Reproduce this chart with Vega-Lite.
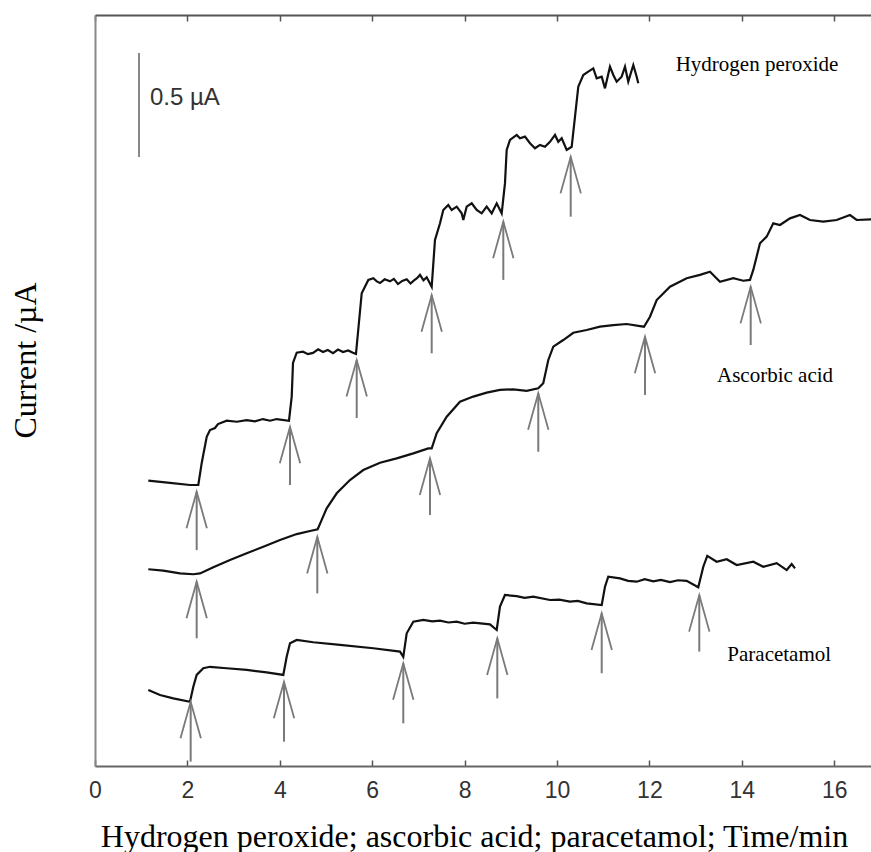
{
  "$schema": "https://vega.github.io/schema/vega-lite/v6.json",
  "width": 776,
  "height": 751,
  "autosize": {"type": "none"},
  "padding": {"left": 95, "top": 15, "right": 0, "bottom": 86},
  "background": "white",
  "config": {
    "view": {"stroke": null},
    "axis": {
      "grid": false,
      "domainColor": "#666",
      "domainWidth": 2,
      "tickColor": "#555",
      "tickWidth": 1.5,
      "labelFont": "Liberation Sans",
      "labelFontSize": 23,
      "labelColor": "#333",
      "titleFont": "Liberation Serif",
      "titleFontSize": 32,
      "titleFontWeight": "normal",
      "titleColor": "#000"
    }
  },
  "datasets": {
    "curves": [
      {"series": "H2O2", "t": 1.154, "i": 1.372},
      {"series": "H2O2", "t": 1.623, "i": 1.361},
      {"series": "H2O2", "t": 2.056, "i": 1.351},
      {"series": "H2O2", "t": 2.236, "i": 1.351},
      {"series": "H2O2", "t": 2.310, "i": 1.457},
      {"series": "H2O2", "t": 2.418, "i": 1.583},
      {"series": "H2O2", "t": 2.489, "i": 1.615},
      {"series": "H2O2", "t": 2.597, "i": 1.625},
      {"series": "H2O2", "t": 2.662, "i": 1.644},
      {"series": "H2O2", "t": 2.851, "i": 1.660},
      {"series": "H2O2", "t": 3.070, "i": 1.655},
      {"series": "H2O2", "t": 3.284, "i": 1.663},
      {"series": "H2O2", "t": 3.460, "i": 1.657},
      {"series": "H2O2", "t": 3.636, "i": 1.668},
      {"series": "H2O2", "t": 3.790, "i": 1.660},
      {"series": "H2O2", "t": 3.933, "i": 1.668},
      {"series": "H2O2", "t": 4.199, "i": 1.660},
      {"series": "H2O2", "t": 4.258, "i": 1.776},
      {"series": "H2O2", "t": 4.286, "i": 1.938},
      {"series": "H2O2", "t": 4.366, "i": 1.987},
      {"series": "H2O2", "t": 4.502, "i": 1.992},
      {"series": "H2O2", "t": 4.610, "i": 1.980},
      {"series": "H2O2", "t": 4.719, "i": 1.986},
      {"series": "H2O2", "t": 4.830, "i": 2.003},
      {"series": "H2O2", "t": 4.935, "i": 1.990},
      {"series": "H2O2", "t": 5.040, "i": 2.000},
      {"series": "H2O2", "t": 5.152, "i": 1.985},
      {"series": "H2O2", "t": 5.260, "i": 2.002},
      {"series": "H2O2", "t": 5.368, "i": 1.990},
      {"series": "H2O2", "t": 5.480, "i": 1.998},
      {"series": "H2O2", "t": 5.584, "i": 1.987},
      {"series": "H2O2", "t": 5.649, "i": 1.981},
      {"series": "H2O2", "t": 5.773, "i": 2.273},
      {"series": "H2O2", "t": 5.916, "i": 2.337},
      {"series": "H2O2", "t": 6.024, "i": 2.345},
      {"series": "H2O2", "t": 6.100, "i": 2.330},
      {"series": "H2O2", "t": 6.169, "i": 2.322},
      {"series": "H2O2", "t": 6.270, "i": 2.340},
      {"series": "H2O2", "t": 6.385, "i": 2.330},
      {"series": "H2O2", "t": 6.470, "i": 2.342},
      {"series": "H2O2", "t": 6.558, "i": 2.317},
      {"series": "H2O2", "t": 6.650, "i": 2.332},
      {"series": "H2O2", "t": 6.747, "i": 2.340},
      {"series": "H2O2", "t": 6.830, "i": 2.320},
      {"series": "H2O2", "t": 6.905, "i": 2.335},
      {"series": "H2O2", "t": 6.970, "i": 2.345},
      {"series": "H2O2", "t": 7.035, "i": 2.361},
      {"series": "H2O2", "t": 7.110, "i": 2.335},
      {"series": "H2O2", "t": 7.180, "i": 2.350},
      {"series": "H2O2", "t": 7.288, "i": 2.304},
      {"series": "H2O2", "t": 7.359, "i": 2.529},
      {"series": "H2O2", "t": 7.468, "i": 2.609},
      {"series": "H2O2", "t": 7.539, "i": 2.673},
      {"series": "H2O2", "t": 7.647, "i": 2.697},
      {"series": "H2O2", "t": 7.721, "i": 2.673},
      {"series": "H2O2", "t": 7.829, "i": 2.689},
      {"series": "H2O2", "t": 7.937, "i": 2.657},
      {"series": "H2O2", "t": 7.972, "i": 2.625},
      {"series": "H2O2", "t": 8.045, "i": 2.689},
      {"series": "H2O2", "t": 8.154, "i": 2.705},
      {"series": "H2O2", "t": 8.262, "i": 2.673},
      {"series": "H2O2", "t": 8.370, "i": 2.657},
      {"series": "H2O2", "t": 8.478, "i": 2.689},
      {"series": "H2O2", "t": 8.587, "i": 2.657},
      {"series": "H2O2", "t": 8.695, "i": 2.705},
      {"series": "H2O2", "t": 8.803, "i": 2.657},
      {"series": "H2O2", "t": 8.874, "i": 2.801},
      {"series": "H2O2", "t": 8.911, "i": 2.962},
      {"series": "H2O2", "t": 8.983, "i": 3.010},
      {"series": "H2O2", "t": 9.128, "i": 3.034},
      {"series": "H2O2", "t": 9.199, "i": 3.018},
      {"series": "H2O2", "t": 9.307, "i": 3.026},
      {"series": "H2O2", "t": 9.416, "i": 2.994},
      {"series": "H2O2", "t": 9.524, "i": 2.970},
      {"series": "H2O2", "t": 9.632, "i": 2.986},
      {"series": "H2O2", "t": 9.740, "i": 2.977},
      {"series": "H2O2", "t": 9.848, "i": 3.001},
      {"series": "H2O2", "t": 9.957, "i": 3.034},
      {"series": "H2O2", "t": 10.028, "i": 3.001},
      {"series": "H2O2", "t": 10.102, "i": 3.018},
      {"series": "H2O2", "t": 10.210, "i": 2.962},
      {"series": "H2O2", "t": 10.318, "i": 2.977},
      {"series": "H2O2", "t": 10.390, "i": 3.122},
      {"series": "H2O2", "t": 10.461, "i": 3.266},
      {"series": "H2O2", "t": 10.569, "i": 3.322},
      {"series": "H2O2", "t": 10.677, "i": 3.338},
      {"series": "H2O2", "t": 10.786, "i": 3.354},
      {"series": "H2O2", "t": 10.859, "i": 3.306},
      {"series": "H2O2", "t": 10.968, "i": 3.314},
      {"series": "H2O2", "t": 11.039, "i": 3.258},
      {"series": "H2O2", "t": 11.147, "i": 3.362},
      {"series": "H2O2", "t": 11.219, "i": 3.322},
      {"series": "H2O2", "t": 11.292, "i": 3.290},
      {"series": "H2O2", "t": 11.400, "i": 3.314},
      {"series": "H2O2", "t": 11.472, "i": 3.362},
      {"series": "H2O2", "t": 11.543, "i": 3.290},
      {"series": "H2O2", "t": 11.652, "i": 3.370},
      {"series": "H2O2", "t": 11.725, "i": 3.314},
      {"series": "H2O2", "t": 11.760, "i": 3.282},
      {"series": "AA", "t": 1.154, "i": 0.946},
      {"series": "AA", "t": 1.478, "i": 0.939},
      {"series": "AA", "t": 1.840, "i": 0.926},
      {"series": "AA", "t": 2.128, "i": 0.922},
      {"series": "AA", "t": 2.273, "i": 0.926},
      {"series": "AA", "t": 2.561, "i": 0.955},
      {"series": "AA", "t": 2.922, "i": 0.990},
      {"series": "AA", "t": 3.284, "i": 1.023},
      {"series": "AA", "t": 3.643, "i": 1.054},
      {"series": "AA", "t": 4.004, "i": 1.087},
      {"series": "AA", "t": 4.366, "i": 1.115},
      {"series": "AA", "t": 4.654, "i": 1.130},
      {"series": "AA", "t": 4.820, "i": 1.138},
      {"series": "AA", "t": 4.907, "i": 1.183},
      {"series": "AA", "t": 5.015, "i": 1.239},
      {"series": "AA", "t": 5.232, "i": 1.311},
      {"series": "AA", "t": 5.519, "i": 1.375},
      {"series": "AA", "t": 5.807, "i": 1.423},
      {"series": "AA", "t": 6.169, "i": 1.458},
      {"series": "AA", "t": 6.530, "i": 1.479},
      {"series": "AA", "t": 6.890, "i": 1.503},
      {"series": "AA", "t": 7.214, "i": 1.527},
      {"series": "AA", "t": 7.288, "i": 1.527},
      {"series": "AA", "t": 7.396, "i": 1.600},
      {"series": "AA", "t": 7.613, "i": 1.679},
      {"series": "AA", "t": 7.900, "i": 1.751},
      {"series": "AA", "t": 8.188, "i": 1.776},
      {"series": "AA", "t": 8.478, "i": 1.795},
      {"series": "AA", "t": 8.766, "i": 1.808},
      {"series": "AA", "t": 9.054, "i": 1.811},
      {"series": "AA", "t": 9.344, "i": 1.804},
      {"series": "AA", "t": 9.595, "i": 1.816},
      {"series": "AA", "t": 9.703, "i": 1.840},
      {"series": "AA", "t": 9.812, "i": 1.952},
      {"series": "AA", "t": 9.920, "i": 2.016},
      {"series": "AA", "t": 10.136, "i": 2.048},
      {"series": "AA", "t": 10.353, "i": 2.083},
      {"series": "AA", "t": 10.643, "i": 2.096},
      {"series": "AA", "t": 10.931, "i": 2.112},
      {"series": "AA", "t": 11.219, "i": 2.120},
      {"series": "AA", "t": 11.509, "i": 2.125},
      {"series": "AA", "t": 11.797, "i": 2.115},
      {"series": "AA", "t": 11.883, "i": 2.112},
      {"series": "AA", "t": 12.013, "i": 2.160},
      {"series": "AA", "t": 12.158, "i": 2.240},
      {"series": "AA", "t": 12.446, "i": 2.304},
      {"series": "AA", "t": 12.807, "i": 2.345},
      {"series": "AA", "t": 13.095, "i": 2.361},
      {"series": "AA", "t": 13.312, "i": 2.376},
      {"series": "AA", "t": 13.528, "i": 2.328},
      {"series": "AA", "t": 13.816, "i": 2.345},
      {"series": "AA", "t": 14.032, "i": 2.333},
      {"series": "AA", "t": 14.177, "i": 2.337},
      {"series": "AA", "t": 14.249, "i": 2.385},
      {"series": "AA", "t": 14.394, "i": 2.513},
      {"series": "AA", "t": 14.539, "i": 2.545},
      {"series": "AA", "t": 14.682, "i": 2.609},
      {"series": "AA", "t": 14.827, "i": 2.601},
      {"series": "AA", "t": 15.043, "i": 2.633},
      {"series": "AA", "t": 15.260, "i": 2.649},
      {"series": "AA", "t": 15.476, "i": 2.625},
      {"series": "AA", "t": 15.764, "i": 2.617},
      {"series": "AA", "t": 16.054, "i": 2.625},
      {"series": "AA", "t": 16.342, "i": 2.649},
      {"series": "AA", "t": 16.487, "i": 2.625},
      {"series": "AA", "t": 16.797, "i": 2.628},
      {"series": "PA", "t": 1.154, "i": 0.365},
      {"series": "PA", "t": 1.407, "i": 0.341},
      {"series": "PA", "t": 1.695, "i": 0.325},
      {"series": "PA", "t": 2.056, "i": 0.309},
      {"series": "PA", "t": 2.128, "i": 0.381},
      {"series": "PA", "t": 2.201, "i": 0.438},
      {"series": "PA", "t": 2.344, "i": 0.470},
      {"series": "PA", "t": 2.489, "i": 0.477},
      {"series": "PA", "t": 2.851, "i": 0.470},
      {"series": "PA", "t": 3.284, "i": 0.462},
      {"series": "PA", "t": 3.716, "i": 0.450},
      {"series": "PA", "t": 4.076, "i": 0.438},
      {"series": "PA", "t": 4.149, "i": 0.525},
      {"series": "PA", "t": 4.221, "i": 0.590},
      {"series": "PA", "t": 4.366, "i": 0.606},
      {"series": "PA", "t": 4.725, "i": 0.595},
      {"series": "PA", "t": 5.303, "i": 0.582},
      {"series": "PA", "t": 6.024, "i": 0.566},
      {"series": "PA", "t": 6.602, "i": 0.550},
      {"series": "PA", "t": 6.673, "i": 0.525},
      {"series": "PA", "t": 6.747, "i": 0.638},
      {"series": "PA", "t": 6.890, "i": 0.694},
      {"series": "PA", "t": 7.106, "i": 0.702},
      {"series": "PA", "t": 7.300, "i": 0.695},
      {"series": "PA", "t": 7.468, "i": 0.699},
      {"series": "PA", "t": 7.650, "i": 0.690},
      {"series": "PA", "t": 7.829, "i": 0.694},
      {"series": "PA", "t": 8.000, "i": 0.684},
      {"series": "PA", "t": 8.188, "i": 0.689},
      {"series": "PA", "t": 8.550, "i": 0.681},
      {"series": "PA", "t": 8.695, "i": 0.654},
      {"series": "PA", "t": 8.766, "i": 0.766},
      {"series": "PA", "t": 8.874, "i": 0.822},
      {"series": "PA", "t": 9.128, "i": 0.817},
      {"series": "PA", "t": 9.300, "i": 0.808},
      {"series": "PA", "t": 9.487, "i": 0.814},
      {"series": "PA", "t": 9.848, "i": 0.798},
      {"series": "PA", "t": 10.050, "i": 0.800},
      {"series": "PA", "t": 10.281, "i": 0.790},
      {"series": "PA", "t": 10.450, "i": 0.794},
      {"series": "PA", "t": 10.643, "i": 0.782},
      {"series": "PA", "t": 10.968, "i": 0.774},
      {"series": "PA", "t": 11.039, "i": 0.862},
      {"series": "PA", "t": 11.110, "i": 0.910},
      {"series": "PA", "t": 11.364, "i": 0.902},
      {"series": "PA", "t": 11.540, "i": 0.890},
      {"series": "PA", "t": 11.725, "i": 0.886},
      {"series": "PA", "t": 11.900, "i": 0.898},
      {"series": "PA", "t": 12.084, "i": 0.888},
      {"series": "PA", "t": 12.250, "i": 0.895},
      {"series": "PA", "t": 12.446, "i": 0.884},
      {"series": "PA", "t": 12.620, "i": 0.893},
      {"series": "PA", "t": 12.807, "i": 0.890},
      {"series": "PA", "t": 13.058, "i": 0.859},
      {"series": "PA", "t": 13.167, "i": 0.958},
      {"series": "PA", "t": 13.253, "i": 1.010},
      {"series": "PA", "t": 13.457, "i": 0.982},
      {"series": "PA", "t": 13.673, "i": 0.994},
      {"series": "PA", "t": 13.890, "i": 0.966},
      {"series": "PA", "t": 14.249, "i": 0.982},
      {"series": "PA", "t": 14.465, "i": 0.958},
      {"series": "PA", "t": 14.755, "i": 0.975},
      {"series": "PA", "t": 14.972, "i": 0.942},
      {"series": "PA", "t": 15.080, "i": 0.971},
      {"series": "PA", "t": 15.152, "i": 0.950}
    ],
    "arrows": [
      {"series": "H2O2", "t": 2.201, "tip": 1.319, "base": 1.038},
      {"series": "H2O2", "t": 4.221, "tip": 1.631, "base": 1.351},
      {"series": "H2O2", "t": 5.665, "tip": 1.952, "base": 1.673},
      {"series": "H2O2", "t": 7.288, "tip": 2.264, "base": 1.984},
      {"series": "H2O2", "t": 8.838, "tip": 2.617, "base": 2.337},
      {"series": "H2O2", "t": 10.297, "tip": 2.929, "base": 2.641},
      {"series": "AA", "t": 2.201, "tip": 0.886, "base": 0.614},
      {"series": "AA", "t": 4.812, "tip": 1.102, "base": 0.830},
      {"series": "AA", "t": 7.251, "tip": 1.479, "base": 1.207},
      {"series": "AA", "t": 9.595, "tip": 1.792, "base": 1.511},
      {"series": "AA", "t": 11.905, "tip": 2.064, "base": 1.784},
      {"series": "AA", "t": 14.193, "tip": 2.304, "base": 2.024},
      {"series": "PA", "t": 2.071, "tip": 0.309, "base": 0.021},
      {"series": "PA", "t": 4.091, "tip": 0.405, "base": 0.117},
      {"series": "PA", "t": 6.673, "tip": 0.494, "base": 0.205},
      {"series": "PA", "t": 8.708, "tip": 0.614, "base": 0.325},
      {"series": "PA", "t": 10.968, "tip": 0.734, "base": 0.446},
      {"series": "PA", "t": 13.080, "tip": 0.822, "base": 0.550}
    ],
    "labels": [
      {"label": "Hydrogen peroxide", "t": 14.33, "i": 3.37},
      {"label": "Ascorbic acid", "t": 14.72, "i": 1.875},
      {"label": "Paracetamol", "t": 14.81, "i": 0.534}
    ],
    "scalebar": [
      {"t": 0.952, "lo": 2.928, "hi": 3.428, "mid": 3.21, "tl": 1.19, "label": "0.5 µA"}
    ]
  },
  "layer": [
    {
      "data": {"name": "curves"},
      "mark": {"type": "line", "color": "#111", "strokeWidth": 2.2, "clip": true},
      "encoding": {
        "x": {
          "field": "t", "type": "quantitative",
          "scale": {"domain": [0, 16.797], "nice": false, "zero": false},
          "axis": {
            "orient": "bottom",
            "values": [0, 2, 4, 6, 8, 10, 12, 14, 16],
            "tickSize": -6,
            "labelPadding": 19,
            "labelFlush": false,
            "title": "Hydrogen peroxide; ascorbic acid; paracetamol; Time/min",
            "titleX": 379,
            "titleY": 80,
            "titleAlign": "center",
            "titleBaseline": "alphabetic"
          }
        },
        "y": {
          "field": "i", "type": "quantitative",
          "scale": {"domain": [0, 3.6106], "nice": false, "zero": false},
          "axis": {
            "orient": "left",
            "labels": false,
            "ticks": false,
            "domainColor": "#888",
            "title": "Current /µA",
            "titleAngle": -90,
            "titleX": -60,
            "titleY": 345,
            "titleAlign": "center",
            "titleBaseline": "alphabetic"
          }
        },
        "detail": {"field": "series"}
      }
    },
    {
      "data": {"name": "arrows"},
      "mark": {"type": "rule", "color": "#7a7a7a", "strokeWidth": 2},
      "encoding": {
        "x": {
          "field": "t", "type": "quantitative",
          "axis": {
            "orient": "top",
            "values": [0, 2, 4, 6, 8, 10, 12, 14, 16],
            "tickSize": -6,
            "labels": false,
            "title": null,
            "domainColor": "#555"
          }
        },
        "y": {"field": "tip", "type": "quantitative"},
        "y2": {"field": "base"}
      }
    },
    {
      "data": {"name": "arrows"},
      "mark": {
        "type": "point",
        "shape": "M-0.34,1.22L0,0L0.34,1.22",
        "size": 3600,
        "filled": false,
        "opacity": 1,
        "color": "#7a7a7a",
        "strokeWidth": 1.8
      },
      "encoding": {
        "x": {"field": "t", "type": "quantitative", "axis": null},
        "y": {"field": "tip", "type": "quantitative"}
      }
    },
    {
      "data": {"name": "scalebar"},
      "mark": {"type": "rule", "color": "#888", "strokeWidth": 2},
      "encoding": {
        "x": {"field": "t", "type": "quantitative", "axis": null},
        "y": {"field": "lo", "type": "quantitative"},
        "y2": {"field": "hi"}
      }
    },
    {
      "data": {"name": "scalebar"},
      "mark": {"type": "text", "font": "Liberation Sans", "fontSize": 24, "color": "#333", "align": "left", "baseline": "middle"},
      "encoding": {
        "x": {"field": "tl", "type": "quantitative", "axis": null},
        "y": {"field": "mid", "type": "quantitative"},
        "text": {"field": "label"}
      }
    },
    {
      "data": {"name": "labels"},
      "mark": {"type": "text", "font": "Liberation Serif", "fontSize": 21, "color": "#000", "align": "center", "baseline": "middle"},
      "encoding": {
        "x": {"field": "t", "type": "quantitative", "axis": null},
        "y": {"field": "i", "type": "quantitative"},
        "text": {"field": "label"}
      }
    }
  ]
}
